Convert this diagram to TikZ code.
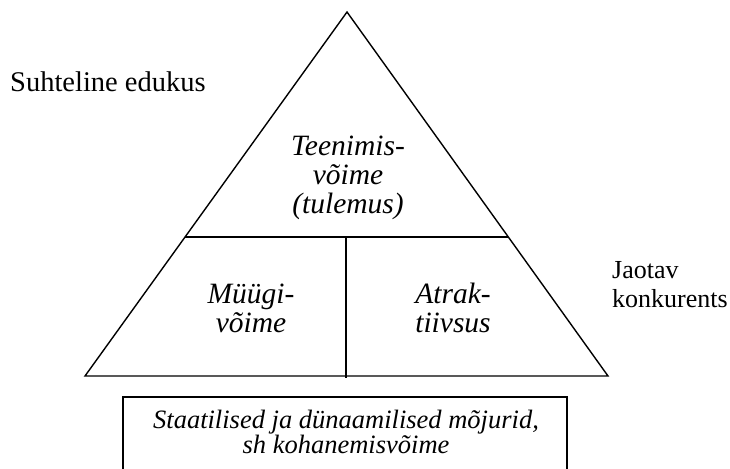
\documentclass[tikz,border=0pt]{standalone}
\usepackage{fontspec}
\setmainfont{Liberation Serif}
\usetikzlibrary{calc}
\begin{document}
\begin{tikzpicture}[x=1pt,y=-1pt,
  edge/.style={line width=1.4pt, line join=miter},
  label/.style={inner sep=0pt, anchor=base west, align=left},
  cell/.style={inner sep=0pt, anchor=base, align=center}]
\useasboundingbox (0,0) rectangle (730,468);
\clip (0,0) rectangle (730,468);

% pyramid outline
\coordinate (apex) at (347,12);
\coordinate (bl) at (85,376);
\coordinate (br) at (608,376);
\draw[edge] (apex) -- (br) -- (bl) -- cycle;

% dividing lines
\coordinate (ml) at ($(apex)!0.618!(bl)$);
\coordinate (mr) at ($(apex)!0.618!(br)$);
\coordinate (vt) at (346,237);
\coordinate (vb) at (346,378);
\draw[edge] (ml) -- (mr);
\draw[edge] (vt) -- (vb);

% base box
\coordinate (boxtl) at (123,397);
\coordinate (boxbr) at (567,480);
\draw[edge] (boxtl) rectangle (boxbr);

% texts (multi-line nodes are placed by the baseline of their last line)
\node[label, font=\fontsize{28.5}{29}\selectfont] (succ) at (10,92) {Suhteline edukus};
\node[label, font=\fontsize{26}{29}\selectfont] (comp) at (612,307) {Jaotav\\konkurents};
\node[cell, font=\fontsize{29.5}{29}\selectfont\itshape] (serv) at (348,213) {Teenimis-\\võime\\(tulemus)};
\node[cell, font=\fontsize{29.5}{29}\selectfont\itshape] (sale) at (251,332) {Müügi-\\võime};
\node[cell, font=\fontsize{29.5}{29}\selectfont\itshape] (attr) at (453,332) {Atrak-\\tiivsus};
\node[cell, font=\fontsize{26.5}{25}\selectfont\itshape] (fact) at (346,453) {Staatilised ja dünaamilised mõjurid,\\sh kohanemisvõime};
\end{tikzpicture}
\end{document}
